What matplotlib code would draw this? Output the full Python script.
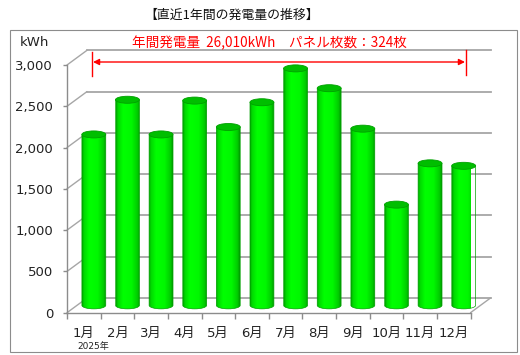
import numpy as np
import matplotlib
matplotlib.use("Agg")
import matplotlib.pyplot as plt
from matplotlib.transforms import ScaledTranslation
from matplotlib.patches import Ellipse, PathPatch, ConnectionPatch, FancyArrowPatch, Rectangle
from matplotlib.path import Path
from matplotlib.colors import LinearSegmentedColormap
from matplotlib.lines import Line2D

plt.rcParams['font.family'] = ['DejaVu Sans', 'Noto Sans CJK JP']

# ---- data ----
months = ['1月', '2月', '3月', '4月', '5月', '6月', '7月', '8月', '9月', '10月', '11月', '12月']
values = [2070, 2490, 2070, 2480, 2160, 2460, 2870, 2630, 2140, 1220, 1720, 1690]
yticks = [0, 500, 1000, 1500, 2000, 2500, 3000]
title = '【直近1年間の発電量の推移】'
note = '年間発電量  26,010kWh　パネル枚数：324枚'
unit = 'kWh'
year_label = '2025年'

W, H = 520, 355
fig = plt.figure(figsize=(W / 100, H / 100), dpi=100)
fig.patch.set_facecolor('white')

# front plane of the 3D box
left_px, right_px, top_px, bot_px = 67, 470.5, 65, 312.7
ax = fig.add_axes([left_px / W, 1 - bot_px / H, (right_px - left_px) / W, (bot_px - top_px) / H])
ax.set_facecolor('none')
n = len(months)
ax.set_xlim(0, n)
ax.set_ylim(0, 3000)

DX, DY = 20, 14.7  # depth offset in pixels
back = ax.transData + ScaledTranslation(DX / 100, DY / 100, fig.dpi_scale_trans)
mid = ax.transData + ScaledTranslation(DX / 200, DY / 200, fig.dpi_scale_trans)

grid_c = '#A6A6A6'
axis_c = '#8C8C8C'
for v in yticks:
    ax.plot([0, n], [v, v], color=grid_c, lw=1.3, transform=back, clip_on=False, zorder=1)
    cp = ConnectionPatch(xyA=(0, v), coordsA=ax.transData, xyB=(0, v), coordsB=back,
                         color=grid_c, lw=1.0, zorder=1)
    ax.add_artist(cp)
cp = ConnectionPatch(xyA=(n, 0), coordsA=ax.transData, xyB=(n, 0), coordsB=back,
                     color=grid_c, lw=1.0, zorder=1)
ax.add_artist(cp)

# spines / ticks
for s in ['top', 'right']:
    ax.spines[s].set_visible(False)
for s in ['left', 'bottom']:
    ax.spines[s].set_color(axis_c)
    ax.spines[s].set_linewidth(1.0)
ax.set_yticks(yticks)
ax.set_yticklabels([f'{v:,}' for v in yticks])
ax.tick_params(axis='y', length=3, width=1, color=axis_c, pad=7, labelsize=9.5, labelcolor='#222222')
ax.set_xticks(np.arange(0, n + 1))
ax.set_xticklabels([''] * (n + 1))
ax.set_xticks(np.arange(n) + 0.5, minor=True)
ax.set_xticklabels(months, minor=True)
ax.tick_params(axis='x', which='major', length=4, width=1, color=axis_c)
ax.tick_params(axis='x', which='minor', length=0, pad=10, labelsize=9.5, labelcolor='#222222')

# cylinders
cyl = LinearSegmentedColormap.from_list('cyl', [
    (0.0, '#009E00'), (0.08, '#00D800'), (0.3, '#00FF00'), (0.65, '#00F800'),
    (0.9, '#00CC00'), (1.0, '#009800')])
grad = np.linspace(0, 1, 256).reshape(1, -1)
bw = 0.71
eh = 85.0
for i, v in enumerate(values):
    xc = i + 0.5
    x0, x1 = xc - bw / 2, xc + bw / 2
    arc = Path.arc(180, 360)
    av = arc.vertices * np.array([bw / 2, eh / 2]) + np.array([xc, 0])
    verts = [(x0, v)] + [tuple(p) for p in av] + [(x1, v), (x0, v)]
    codes = [Path.MOVETO] + [Path.LINETO] + list(arc.codes[1:]) + [Path.LINETO, Path.CLOSEPOLY]
    body = PathPatch(Path(verts, codes), facecolor='none', edgecolor='#00A000', lw=0.5,
                     transform=mid, clip_on=False, zorder=4)
    ax.add_patch(body)
    im = ax.imshow(grad, cmap=cyl, extent=[x0, x1, -eh / 2, v], aspect='auto',
                   transform=mid, interpolation='bilinear', zorder=3)
    im.set_clip_path(body)
    cap = Ellipse((xc, v), bw, eh, facecolor='#00BE00', edgecolor='#00A000', lw=0.6,
                  transform=mid, clip_on=False, zorder=5)
    ax.add_patch(cap)

ax.set_xlim(0, n)
ax.set_ylim(0, 3000)
ax.set_aspect('auto')

# texts
fig.text(232 / W, 1 - 15 / H, title, ha='center', va='center', fontsize=9.3,
         family=['Noto Sans CJK JP', 'DejaVu Sans'], color='#111111')
fig.text(20 / W, 1 - 43 / H, unit, ha='left', va='center', fontsize=9.5, color='#222222')
fig.text(269 / W, 1 - 43 / H, note, ha='center', va='center', fontsize=9.8,
         family=['Noto Sans CJK JP', 'DejaVu Sans'], color='#FF0000')
fig.text(77 / W, 1 - 346 / H, year_label, ha='left', va='center', fontsize=6.5,
         family=['DejaVu Sans', 'Noto Sans CJK JP'], color='#222222')

# red arrow with end bars
arr = FancyArrowPatch((93 / W, 1 - 62 / H), (465 / W, 1 - 62 / H), transform=fig.transFigure,
                      arrowstyle='<|-|>', mutation_scale=9, color='#FF0000', lw=1,
                      shrinkA=0, shrinkB=0)
fig.add_artist(arr)
fig.add_artist(Line2D([92 / W, 92 / W], [1 - 52 / H, 1 - 76 / H], color='#FF0000', lw=1))
fig.add_artist(Line2D([466 / W, 466 / W], [1 - 50 / H, 1 - 75 / H], color='#FF0000', lw=1))

# chart area border
fig.add_artist(Rectangle((9.5 / W, 1 - 352 / H), (517 - 9.5) / W, (352 - 29.5) / H,
                         transform=fig.transFigure, fill=False, edgecolor='#8C8C8C', lw=0.8))

fig.savefig('out.png', dpi=100)
